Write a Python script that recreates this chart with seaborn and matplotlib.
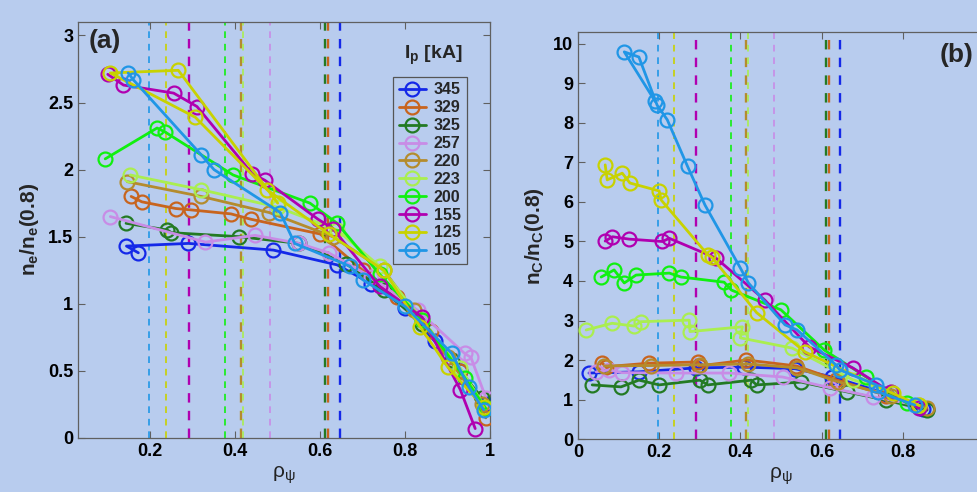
import numpy as np
import pandas as pd
import matplotlib
matplotlib.use("Agg")
import matplotlib.pyplot as plt
from matplotlib.lines import Line2D
import seaborn as sns

# ---------------- data ----------------
ip_labels = ["345", "329", "325", "257", "220", "223", "200", "155", "125", "105"]
colors = ["#1428E8", "#C8641E", "#237A23", "#C88CE6", "#B48C2D",
          "#AAEE50", "#10F010", "#B000B0", "#C8D200", "#2096E6"]
# dashed vertical markers (one per Ip)
rho_mark = [0.646, 0.619, 0.612, 0.482, 0.413, 0.418, 0.376, 0.291, 0.236, 0.196]

# panel (a): n_e / n_e(0.8)
a_rho_345 = [0.172, 0.144, 0.29, 0.49, 0.64, 0.72, 0.80, 0.87, 0.93, 0.99]
a_val_345 = [1.38, 1.43, 1.45, 1.40, 1.29, 1.15, 0.97, 0.72, 0.50, 0.25]
a_rho_329 = [0.155, 0.18, 0.26, 0.295, 0.39, 0.437, 0.60, 0.70, 0.78, 0.86, 0.93, 0.99]
a_val_329 = [1.80, 1.76, 1.71, 1.70, 1.67, 1.63, 1.52, 1.25, 1.05, 0.80, 0.50, 0.15]
a_rho_325 = [0.143, 0.24, 0.25, 0.41, 0.55, 0.66, 0.75, 0.84, 0.91, 0.98]
a_val_325 = [1.60, 1.55, 1.53, 1.50, 1.45, 1.30, 1.10, 0.85, 0.58, 0.30]
a_rho_257 = [0.106, 0.33, 0.447, 0.55, 0.62, 0.72, 0.83, 0.94, 0.955, 0.99]
a_val_257 = [1.65, 1.46, 1.51, 1.45, 1.38, 1.20, 0.95, 0.63, 0.60, 0.30]
a_rho_220 = [0.146, 0.32, 0.48, 0.63, 0.75, 0.82, 0.90, 0.98]
a_val_220 = [1.91, 1.80, 1.68, 1.50, 1.25, 0.95, 0.60, 0.25]
a_rho_223 = [0.153, 0.32, 0.50, 0.64, 0.74, 0.84, 0.93, 0.99]
a_val_223 = [1.96, 1.85, 1.72, 1.55, 1.28, 0.88, 0.52, 0.22]
a_rho_200 = [0.094, 0.216, 0.235, 0.395, 0.576, 0.64, 0.74, 0.84, 0.94, 0.99]
a_val_200 = [2.08, 2.31, 2.28, 1.96, 1.75, 1.60, 1.22, 0.88, 0.45, 0.22]
a_rho_155 = [0.10, 0.137, 0.255, 0.31, 0.44, 0.47, 0.595, 0.63, 0.74, 0.84, 0.93, 0.965]
a_val_155 = [2.71, 2.63, 2.57, 2.47, 1.97, 1.92, 1.63, 1.56, 1.13, 0.90, 0.36, 0.07]
a_rho_125 = [0.985, 0.90, 0.835, 0.75, 0.62, 0.475, 0.306, 0.106, 0.266, 0.50]
a_val_125 = [0.23, 0.53, 0.83, 1.25, 1.52, 1.85, 2.39, 2.72, 2.74, 1.75]
a_rho_105 = [0.148, 0.16, 0.32, 0.35, 0.506, 0.54, 0.67, 0.70, 0.80, 0.91, 0.95, 0.985]
a_val_105 = [2.72, 2.67, 2.11, 2.00, 1.68, 1.45, 1.28, 1.18, 0.98, 0.63, 0.38, 0.21]

# panel (b): n_C / n_C(0.8)
b_rho_345 = [0.027, 0.15, 0.29, 0.41, 0.535, 0.627, 0.76, 0.85]
b_val_345 = [1.67, 1.70, 1.80, 1.82, 1.78, 1.57, 1.15, 0.75]
b_rho_329 = [0.06, 0.068, 0.175, 0.296, 0.298, 0.415, 0.538, 0.636, 0.76, 0.86]
b_val_329 = [1.92, 1.83, 1.92, 1.95, 1.85, 2.00, 1.85, 1.50, 1.10, 0.75]
b_rho_325 = [0.035, 0.106, 0.15, 0.20, 0.30, 0.32, 0.427, 0.44, 0.55, 0.664, 0.76, 0.86]
b_val_325 = [1.37, 1.32, 1.49, 1.37, 1.49, 1.37, 1.49, 1.37, 1.44, 1.19, 0.98, 0.73]
b_rho_257 = [0.045, 0.077, 0.108, 0.242, 0.373, 0.504, 0.62, 0.726, 0.84]
b_val_257 = [1.70, 1.75, 1.68, 1.67, 1.67, 1.57, 1.30, 1.07, 0.85]
b_rho_220 = [0.065, 0.18, 0.30, 0.42, 0.54, 0.64, 0.77, 0.86]
b_val_220 = [1.85, 1.86, 1.88, 1.90, 1.80, 1.45, 1.10, 0.78]
b_rho_223 = [0.02, 0.084, 0.138, 0.155, 0.274, 0.276, 0.405, 0.40, 0.528, 0.677, 0.77, 0.84]
b_val_223 = [2.76, 2.93, 2.86, 2.97, 3.01, 2.72, 2.84, 2.56, 2.30, 1.50, 1.20, 0.85]
b_rho_200 = [0.057, 0.089, 0.114, 0.143, 0.225, 0.254, 0.36, 0.378, 0.50, 0.607, 0.71, 0.81]
b_val_200 = [4.10, 4.28, 3.95, 4.15, 4.20, 4.10, 3.97, 3.77, 3.27, 2.25, 1.57, 0.91]
b_rho_155 = [0.067, 0.085, 0.126, 0.208, 0.225, 0.34, 0.46, 0.57, 0.677, 0.77, 0.84]
b_val_155 = [5.01, 5.12, 5.06, 5.00, 5.08, 4.58, 3.52, 2.33, 1.80, 1.19, 0.78]
b_rho_125 = [0.067, 0.072, 0.109, 0.128, 0.20, 0.205, 0.32, 0.33, 0.44, 0.56, 0.775, 0.84]
b_val_125 = [6.94, 6.56, 6.73, 6.48, 6.28, 6.05, 4.66, 4.60, 3.20, 2.20, 1.16, 0.85]
b_rho_105 = [0.19, 0.114, 0.15, 0.195, 0.22, 0.27, 0.313, 0.40, 0.42, 0.51, 0.54,
             0.636, 0.645, 0.735, 0.74, 0.83]
b_val_105 = [8.55, 9.80, 9.67, 8.45, 8.08, 6.90, 5.92, 4.33, 3.95, 2.89, 2.76,
             1.87, 1.75, 1.37, 1.19, 0.86]

a_rho = [a_rho_345, a_rho_329, a_rho_325, a_rho_257, a_rho_220, a_rho_223, a_rho_200, a_rho_155, a_rho_125, a_rho_105]
a_val = [a_val_345, a_val_329, a_val_325, a_val_257, a_val_220, a_val_223, a_val_200, a_val_155, a_val_125, a_val_105]
b_rho = [b_rho_345, b_rho_329, b_rho_325, b_rho_257, b_rho_220, b_rho_223, b_rho_200, b_rho_155, b_rho_125, b_rho_105]
b_val = [b_val_345, b_val_329, b_val_325, b_val_257, b_val_220, b_val_223, b_val_200, b_val_155, b_val_125, b_val_105]


def make_df(rhos, vals):
    rows = []
    for lab, r, v in zip(ip_labels, rhos, vals):
        for i, (ri, vi) in enumerate(zip(r, v)):
            rows.append({"Ip": lab, "rho": ri, "val": vi, "k": i})
    return pd.DataFrame(rows)


df_a = make_df(a_rho, a_val)
df_b = make_df(b_rho, b_val)

# ---------------- style ----------------
BG = "#B8CCEE"
sns.set_theme(style="ticks")
plt.rcParams["font.family"] = ["Liberation Sans", "DejaVu Sans"]
plt.rcParams["mathtext.fontset"] = "custom"
plt.rcParams["mathtext.rm"] = "Liberation Sans"
plt.rcParams["mathtext.bf"] = "Liberation Sans:bold"
plt.rcParams["mathtext.it"] = "Liberation Sans:italic"

fig = plt.figure(figsize=(9.78, 4.92), dpi=100, facecolor=BG)
ax_a = fig.add_axes([0.0798, 0.1098, 0.4213, 0.8455])
ax_b = fig.add_axes([0.591, 0.1077, 0.415, 0.827])

palette = dict(zip(ip_labels, colors))


def draw(ax, df):
    ax.set_facecolor(BG)
    for lab, xm, c in zip(ip_labels, rho_mark, colors):
        lw = 1.7 if lab in ("345", "155", "325", "329", "220") else 1.2
        ax.axvline(xm, color=c, lw=lw, ls=(0, (4, 3.5)), zorder=1)
    n0 = len(ax.lines)
    sns.lineplot(data=df, x="rho", y="val", hue="Ip", hue_order=ip_labels,
                 palette=palette, sort=False, estimator=None, units="Ip",
                 marker="o", markersize=10, lw=2, ax=ax, legend=False, zorder=3)
    for ln in ax.lines[n0:]:
        ln.set_markeredgecolor(ln.get_color())
        ln.set_markerfacecolor("none")
        ln.set_markeredgewidth(1.6)
    ax.tick_params(direction="in", length=5, top=True, right=True,
                   labelsize=13, colors="#606060", labelcolor="black", width=0.8)
    for s in ax.spines.values():
        s.set_color("#606060")
        s.set_linewidth(0.9)
    ax.set_xlabel(r"$\mathrm{\rho_\psi}$", fontsize=15, color="#222222", labelpad=3)


draw(ax_a, df_a)
ax_a.set_xlim(0.03, 1.0)
ax_a.set_ylim(0, 3.1)
ax_a.set_xticks([0.2, 0.4, 0.6, 0.8, 1.0])
ax_a.set_xticklabels(["0.2", "0.4", "0.6", "0.8", "1"], fontweight="bold")
ax_a.set_yticks([0, 0.5, 1, 1.5, 2, 2.5, 3])
ax_a.set_yticklabels(["0", "0.5", "1", "1.5", "2", "2.5", "3"], fontweight="bold")
ax_a.set_ylabel(r"$\mathbf{n_e/n_e(0.8)}$", fontsize=15, labelpad=5)
ax_a.text(0.065, 0.955, "(a)", transform=ax_a.transAxes, fontsize=19,
          fontweight="bold", ha="center", va="center")

draw(ax_b, df_b)
ax_b.set_xlim(0, 1.0)
ax_b.set_ylim(0, 10.3)
ax_b.set_xticks([0, 0.2, 0.4, 0.6, 0.8, 1.0])
ax_b.set_xticklabels(["0", "0.2", "0.4", "0.6", "0.8", "1"], fontweight="bold")
ax_b.set_yticks(range(0, 11))
ax_b.set_yticklabels([str(i) for i in range(0, 11)], fontweight="bold")
ax_b.set_ylabel(r"$\mathbf{n_C/n_C(0.8)}$", fontsize=15, labelpad=5)
ax_b.text(0.933, 0.945, "(b)", transform=ax_b.transAxes, fontsize=19,
          fontweight="bold", ha="center", va="center")

# legend
handles = [Line2D([0], [0], color=c, lw=2, marker="o", markersize=10,
                  markerfacecolor="none", markeredgecolor=c, markeredgewidth=1.6)
           for c in colors]
leg = ax_a.legend(handles, ip_labels, loc="upper left", bbox_to_anchor=(0.765, 0.868),
                  frameon=True, handlelength=1.7, labelspacing=0.18,
                  handletextpad=0.5, borderpad=0.35, borderaxespad=0,
                  prop={"weight": "bold", "size": 11.5}, fancybox=False)
leg.get_frame().set_facecolor(BG)
leg.get_frame().set_edgecolor("#555555")
leg.get_frame().set_linewidth(0.9)
leg.get_frame().set_alpha(1)
ax_a.text(0.862, 0.92, r"$\mathbf{I_p}$ [kA]", transform=ax_a.transAxes,
          fontsize=14, fontweight="bold", ha="center", va="center")

fig.savefig("out.png", dpi=100, facecolor=BG)
